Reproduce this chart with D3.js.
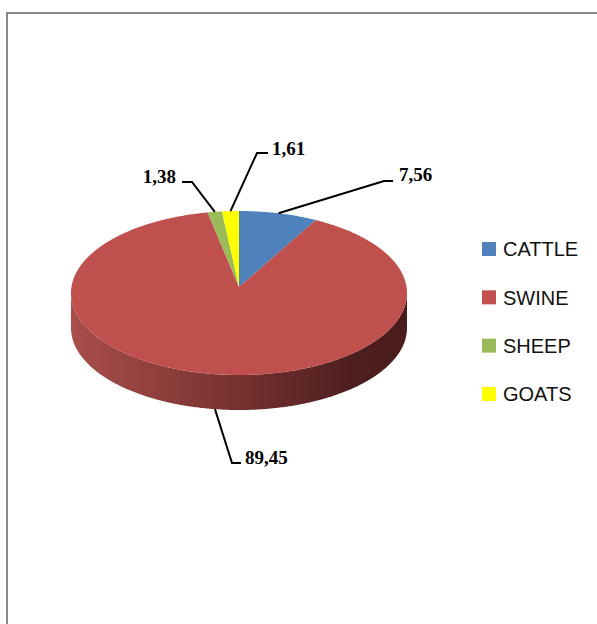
<!DOCTYPE html>
<html>
<head>
<meta charset="utf-8">
<script src="https://cdn.jsdelivr.net/npm/d3@7"></script>
<style>
  html, body { margin: 0; padding: 0; background: #fff; }
  svg { display: block; }
</style>
</head>
<body>
<svg id="chart" width="597" height="624"></svg>
<script>
// Livestock shares (%)
const categories = ["CATTLE", "SWINE", "SHEEP", "GOATS"];
const values = [7.56, 89.45, 1.38, 1.61];
const valueLabels = ["7,56", "89,45", "1,38", "1,61"];
const colors = ["#4F81BD", "#C0504D", "#9BBB59", "#FFFF00"];

const svg = d3.select("#chart");

// chart frame
svg.append("rect")
  .attr("x", 7).attr("y", 13)
  .attr("width", 620).attr("height", 640)
  .attr("fill", "#fff")
  .attr("stroke", "#8a8a8a")
  .attr("stroke-width", 2);

// 3D pie geometry
const cx = 239, cy = 293, rx = 168, ry = 82, depth = 35;
const apex = [239, 287];

const pie = d3.pie().sort(null).value(d => d.value)
  .startAngle(0).endAngle(2 * Math.PI);
const data = categories.map((c, i) => ({ name: c, value: values[i], label: valueLabels[i], color: colors[i] }));
const arcs = pie(data);

// point on the top ellipse at clockwise angle a from 12 o'clock
const pt = (a, dy = 0) => [cx + rx * Math.sin(a), cy - ry * Math.cos(a) + dy];

function sample(a0, a1, dy) {
  const n = Math.max(2, Math.ceil(Math.abs(a1 - a0) / 0.01));
  return d3.range(n + 1).map(k => pt(a0 + (a1 - a0) * k / n, dy));
}

// side gradient (lighter on the left, darker to the right)
const defs = svg.append("defs");
const grad = defs.append("linearGradient")
  .attr("id", "sideGrad")
  .attr("gradientUnits", "userSpaceOnUse")
  .attr("x1", cx - rx).attr("x2", cx + rx)
  .attr("y1", 0).attr("y2", 0);
grad.append("stop").attr("offset", "0%").attr("stop-color", "#a94e4b");
grad.append("stop").attr("offset", "45%").attr("stop-color", "#7b3432");
grad.append("stop").attr("offset", "85%").attr("stop-color", "#4d1e1e");
grad.append("stop").attr("offset", "100%").attr("stop-color", "#4a1c1c");

const line = d3.line();

// front walls: part of each slice lying in the front half (90°..270°)
const lo = Math.PI / 2, hi = 3 * Math.PI / 2;
arcs.forEach(a => {
  const s = Math.max(a.startAngle, lo), e = Math.min(a.endAngle, hi);
  if (e <= s) return;
  const top = sample(s, e, 0);
  const bot = sample(e, s, depth);
  svg.append("path")
    .attr("d", line(top.concat(bot)) + "Z")
    .attr("fill", "url(#sideGrad)");
});

// top faces
arcs.forEach(a => {
  const pts = [apex].concat(sample(a.startAngle, a.endAngle, 0));
  svg.append("path")
    .attr("d", line(pts) + "Z")
    .attr("fill", a.data.color);
});

// value labels with leader lines
const labelLayout = {
  CATTLE: { elbow: [384, 181], end: [393, 181], text: [399, 181], anchor: "start" },
  SWINE:  { elbow: [232, 463], end: [241, 463], text: [245, 464], anchor: "start" },
  SHEEP:  { elbow: [192, 182], end: [182, 182], text: [176, 183], anchor: "end" },
  GOATS:  { elbow: [257, 153], end: [268, 153], text: [272, 155], anchor: "start" }
};

arcs.forEach(a => {
  const mid = (a.startAngle + a.endAngle) / 2;
  const front = Math.cos(mid) < 0;
  const start = pt(mid, front ? depth : 0);
  const L = labelLayout[a.data.name];
  svg.append("path")
    .attr("d", line([start, L.elbow, L.end]))
    .attr("fill", "none")
    .attr("stroke", "#000")
    .attr("stroke-width", 2);
  svg.append("text")
    .attr("x", L.text[0]).attr("y", L.text[1])
    .attr("text-anchor", L.anchor)
    .attr("font-family", "'Liberation Serif', 'Times New Roman', serif")
    .attr("font-weight", "bold")
    .attr("font-size", 19)
    .attr("fill", "#000")
    .text(a.data.label);
});

// legend
const legendY = d3.scalePoint().domain(categories).range([249, 394]);
const legend = svg.append("g");
categories.forEach((c, i) => {
  const y = legendY(c);
  legend.append("rect")
    .attr("x", 482).attr("y", y - 7)
    .attr("width", 14).attr("height", 14)
    .attr("fill", colors[i]);
  legend.append("text")
    .attr("x", 503).attr("y", y)
    .attr("dy", "0.36em")
    .attr("font-family", "'Liberation Sans', Arial, sans-serif")
    .attr("font-size", 20)
    .attr("fill", "#111")
    .text(c);
});
</script>
</body>
</html>
